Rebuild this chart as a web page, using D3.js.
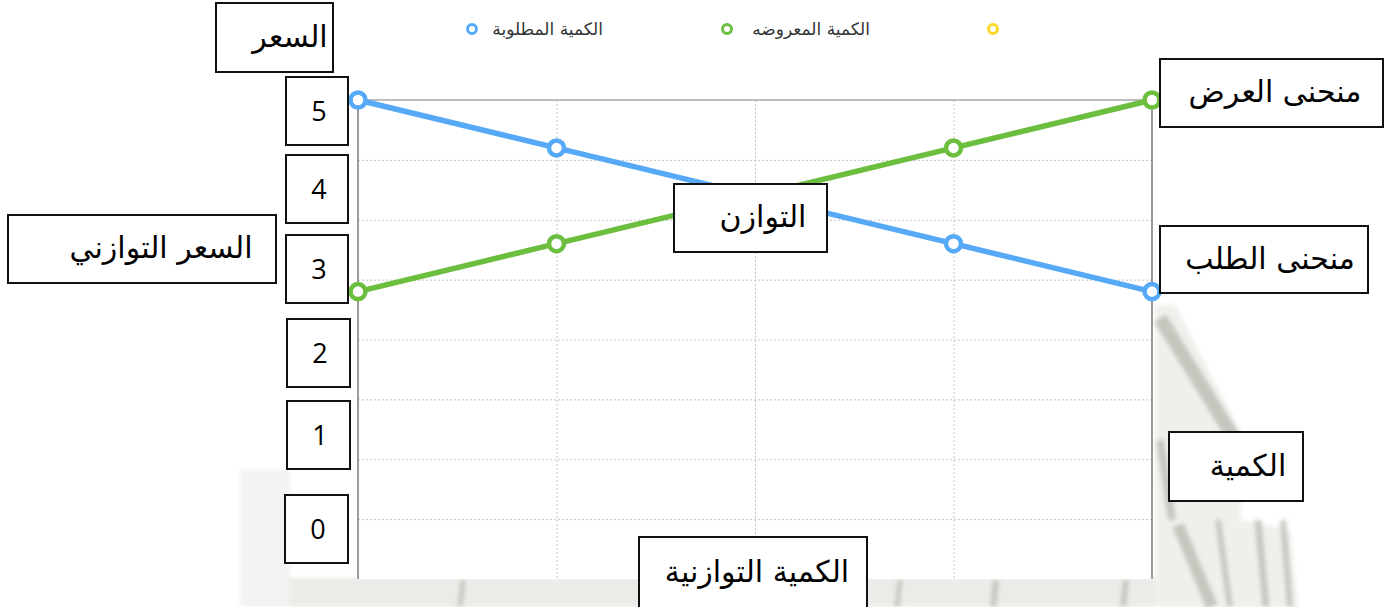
<!DOCTYPE html>
<html lang="ar">
<head>
  <meta charset="UTF-8">
  <title>العرض والطلب</title>
  <script src="https://d3js.org/d3.v7.min.js"></script>
  <style>
    body { margin: 0; background: #fff; }
    svg { display: block; font-family: "DejaVu Sans", "Liberation Sans", sans-serif; }
  </style>
</head>
<body>
  <div id="chart"></div>
  <script>
    // quantity points along the x axis
    const quantities = ['q1', 'q2', 'q3', 'q4', 'q5'];
    // price (grid units)
    const demand = [8, 7.2, 6.4, 5.6, 4.8];
    const supply = [4.8, 5.6, 6.4, 7.2, 8];
    const seriesNames = ['الكمية المطلوبة', 'الكمية المعروضه', ''];
    const seriesColors = ['#55a9f6', '#6cbe3f', '#f9d82a'];
    const priceLabels = ['5', '4', '3', '2', '1', '0'];

    const W = 1397, H = 607;
    const plot = { left: 358, right: 1152, top: 100, bottom: 579 };

    const svg = d3.select('#chart').append('svg')
      .attr('width', W).attr('height', H);

    const defs = svg.append('defs');
    defs.append('filter').attr('id', 'soft')
      .append('feGaussianBlur').attr('stdDeviation', 2);

    // faint scanned background behind the chart
    const bg = svg.append('g').attr('filter', 'url(#soft)');
    bg.append('rect').attr('x', 240).attr('y', 470).attr('width', 50).attr('height', 137)
      .attr('fill', '#f3f3f1');
    bg.append('rect').attr('x', 290).attr('y', 578).attr('width', 1000).attr('height', 29)
      .attr('fill', '#ebebe8');
    bg.append('path')
      .attr('d', 'M1155,305 L1175,305 L1245,440 L1240,520 L1290,530 L1298,607 L1155,607 Z')
      .attr('fill', '#efefec');
    const streak = '#bdbcb4';
    [[1160, 318, 1235, 440, 14], [1160, 440, 1172, 520, 8], [1178, 525, 1212, 607, 12],
     [1218, 520, 1230, 607, 6], [1258, 520, 1266, 607, 7], [1283, 520, 1290, 607, 6]].forEach(s => {
      bg.append('line').attr('x1', s[0]).attr('y1', s[1]).attr('x2', s[2]).attr('y2', s[3])
        .attr('stroke', streak).attr('stroke-width', s[4]).attr('opacity', 0.8);
    });
    [[463, 5], [666, 5], [900, 5], [996, 6], [1126, 6]].forEach(s => {
      bg.append('line').attr('x1', s[0]).attr('y1', 580).attr('x2', s[0] - 3).attr('y2', 607)
        .attr('stroke', streak).attr('stroke-width', s[1]).attr('opacity', 0.8);
    });

    const x = d3.scalePoint().domain(quantities).range([plot.left, plot.right]).padding(0);
    const y = d3.scaleLinear().domain([0, 8]).range([plot.bottom, plot.top]);

    svg.append('rect')
      .attr('x', plot.left).attr('y', plot.top)
      .attr('width', plot.right - plot.left).attr('height', plot.bottom - plot.top)
      .attr('fill', '#fff');

    // horizontal gridlines
    const gy = svg.append('g')
      .attr('transform', `translate(${plot.left},0)`)
      .call(d3.axisRight(y).tickValues([1, 2, 3, 4, 5, 6, 7])
        .tickSize(plot.right - plot.left).tickFormat(''));
    gy.select('.domain').remove();
    gy.selectAll('line').attr('stroke', '#c4c4c4').attr('stroke-dasharray', '2,2');

    // vertical gridlines
    const gx = svg.append('g')
      .attr('transform', `translate(0,${plot.top})`)
      .call(d3.axisBottom(x).tickValues(quantities.slice(1, -1))
        .tickSize(plot.bottom - plot.top).tickFormat(''));
    gx.select('.domain').remove();
    gx.selectAll('line').attr('stroke', '#c4c4c4').attr('stroke-dasharray', '2,2');

    // frame
    svg.append('line').attr('x1', plot.left).attr('x2', plot.right)
      .attr('y1', plot.top).attr('y2', plot.top).attr('stroke', '#7a7a7a').attr('stroke-width', 1);
    [plot.left, plot.right].forEach(px => {
      svg.append('line').attr('x1', px).attr('x2', px)
        .attr('y1', plot.top).attr('y2', plot.bottom).attr('stroke', '#7a7a7a').attr('stroke-width', 1.5);
    });

    const line = d3.line().x((d, i) => x(quantities[i])).y(d => y(d));
    [demand, supply].forEach((vals, k) => {
      svg.append('path').datum(vals)
        .attr('d', line).attr('fill', 'none')
        .attr('stroke', seriesColors[k]).attr('stroke-width', 5.5);
      svg.append('g').selectAll('circle').data(vals).enter().append('circle')
        .attr('cx', (d, i) => x(quantities[i])).attr('cy', d => y(d))
        .attr('r', 7.5).attr('fill', '#fff')
        .attr('stroke', seriesColors[k]).attr('stroke-width', 4.5);
    });

    // legend
    const legendPos = [{ m: 472, t: 603 }, { m: 727, t: 870 }, { m: 993, t: 0 }];
    seriesNames.forEach((name, k) => {
      svg.append('circle').attr('cx', legendPos[k].m).attr('cy', 29).attr('r', 4.5)
        .attr('fill', '#fff').attr('stroke', seriesColors[k]).attr('stroke-width', 3);
      if (name) {
        svg.append('text').attr('x', legendPos[k].t).attr('y', 35)
          .attr('text-anchor', 'end').attr('font-size', 17).attr('fill', '#333')
          .text(name);
      }
    });

    // annotation boxes
    const boxes = [
      { t: 'السعر', x: 216, y: 3, w: 117, h: 69, tx: 290 },
      { t: 'السعر التوازني', x: 8, y: 215, w: 268, h: 68, tx: 161 },
      { t: 'منحنى العرض', x: 1160, y: 59, w: 223, h: 68, tx: 1275 },
      { t: 'منحنى الطلب', x: 1160, y: 226, w: 208, h: 67, tx: 1270 },
      { t: 'الكمية', x: 1169, y: 432, w: 134, h: 69, tx: 1248 },
      { t: 'التوازن', x: 674, y: 184, w: 153, h: 68, tx: 763 },
      { t: 'الكمية التوازنية', x: 639, y: 537, w: 228, h: 72, tx: 757 }
    ];
    const priceBoxes = [
      { x: 286, y: 77, w: 62, h: 68 }, { x: 286, y: 155, w: 62, h: 68 },
      { x: 286, y: 235, w: 62, h: 68 }, { x: 287, y: 319, w: 63, h: 68 },
      { x: 287, y: 401, w: 63, h: 68 }, { x: 285, y: 495, w: 63, h: 68 }
    ];
    priceLabels.forEach((p, i) => boxes.push(Object.assign({ t: p, num: true, tx: priceBoxes[i].x + 33 }, priceBoxes[i])));

    boxes.forEach(b => {
      svg.append('rect').attr('x', b.x).attr('y', b.y).attr('width', b.w).attr('height', b.h)
        .attr('fill', '#fff').attr('stroke', '#111').attr('stroke-width', 2);
      svg.append('text')
        .attr('x', b.tx).attr('y', b.y + b.h / 2)
        .attr('dy', b.num ? '0.36em' : '0.3em')
        .attr('text-anchor', 'middle')
        .attr('font-size', b.num ? 27 : 30)
        .attr('font-family', b.num ? '"Open Sans", sans-serif' : '"DejaVu Sans", sans-serif')
        .attr('fill', '#000')
        .text(b.t);
    });
  </script>
</body>
</html>
